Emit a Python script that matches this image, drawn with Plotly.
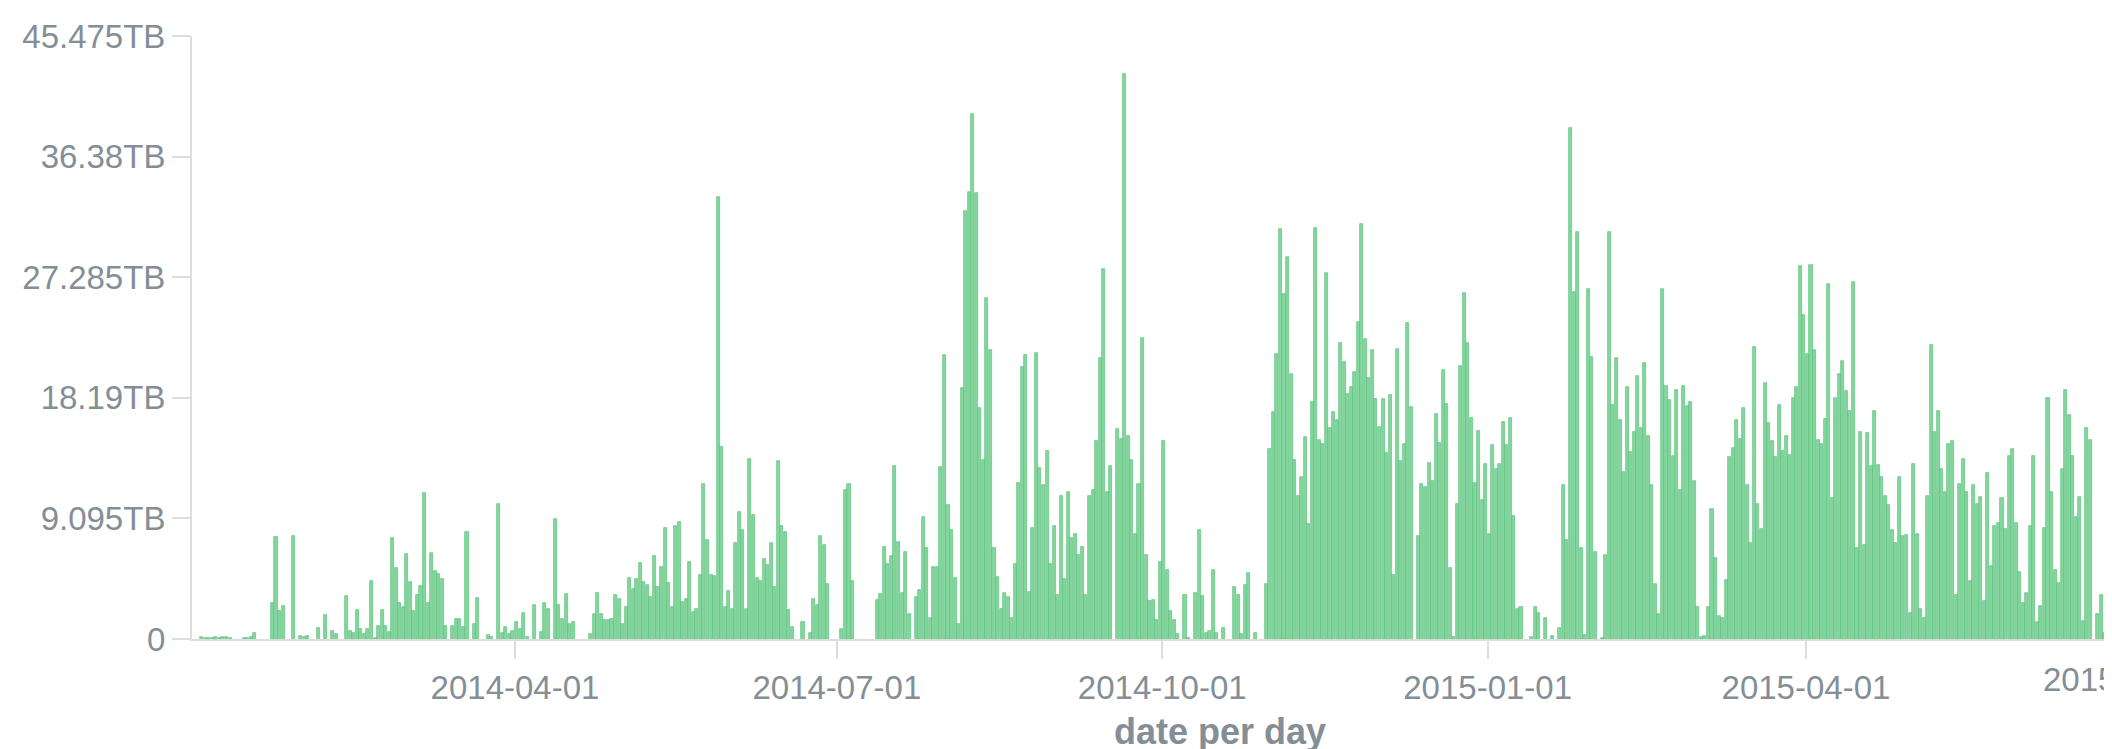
import pandas as pd
import plotly.graph_objects as go

# Daily values in TB, starting 2014-01-02
start_date = "2014-01-02"
values_tb = [
    0.15, 0.1, 0.1, 0.1, 0.12, 0.1, 0.12, 0.15, 0.1, 0,
    0, 0, 0.05, 0.1, 0.15, 0.45, 0, 0, 0, 0,
    2.75, 7.7, 2.1, 2.5, 0, 0, 7.8, 0, 0.2, 0.15,
    0.2, 0, 0, 0.8, 0, 1.8, 0, 0.6, 0.4, 0,
    0, 3.25, 0.6, 0.45, 2.2, 0.72, 0.4, 0.75, 4.35, 0.08,
    1.0, 2.2, 1.0, 0.5, 7.6, 5.36, 2.7, 2.4, 6.4, 4.3,
    2.1, 3.3, 3.97, 11.0, 2.75, 6.5, 5.1, 4.9, 4.5, 1.0,
    0, 1.0, 1.5, 1.5, 0.9, 8.08, 0, 1.1, 3.1, 0,
    0, 0.3, 0.12, 0, 10.2, 0.45, 0.9, 0.4, 0.6, 1.25,
    0.72, 1.95, 0.15, 0, 2.6, 0, 0.55, 2.7, 2.25, 0,
    9.03, 2.6, 1.5, 3.4, 1.1, 1.3, 0, 0, 0, 0,
    0.35, 1.9, 3.5, 1.9, 1.4, 1.4, 1.5, 3.35, 3.0, 1.1,
    2.4, 4.6, 3.8, 4.55, 5.74, 4.3, 4.1, 3.2, 6.25, 3.95,
    5.45, 8.4, 4.25, 2.45, 8.5, 8.86, 2.8, 3.05, 5.8, 2.0,
    2.3, 4.85, 11.67, 7.45, 4.8, 4.75, 33.3, 14.5, 2.4, 3.65,
    2.3, 7.24, 9.57, 8.2, 2.3, 13.6, 9.33, 4.6, 4.4, 6.0,
    5.6, 7.24, 3.95, 13.4, 8.5, 8.05, 2.15, 0.9, 0, 0,
    1.26, 0, 0.45, 3.05, 2.6, 7.78, 7.1, 4.16, 0, 0,
    0, 0.72, 11.2, 11.67, 4.4, 0, 0, 0, 0, 0,
    0, 2.96, 3.4, 6.94, 5.65, 6.25, 13.07, 7.33, 3.5, 6.55,
    1.9, 0, 3.14, 3.7, 9.2, 6.85, 1.56, 5.4, 5.4, 13.0,
    21.4, 10.1, 8.2, 4.6, 1.1, 18.9, 32.3, 33.7, 39.6, 33.6,
    17.4, 13.5, 25.7, 21.8, 6.85, 4.7, 2.3, 3.5, 3.14, 1.56,
    5.65, 11.8, 20.5, 21.4, 3.56, 8.4, 21.6, 12.9, 11.6, 14.2,
    5.65, 8.5, 3.35, 10.8, 4.55, 11.1, 7.6, 7.9, 6.34, 6.94,
    3.3, 10.8, 11.2, 14.9, 21.2, 27.9, 11.1, 13.07, 0, 15.8,
    15.1, 42.6, 15.3, 13.5, 7.9, 11.7, 22.7, 6.34, 2.9, 2.93,
    1.47, 5.83, 14.9, 5.2, 2.1, 1.47, 0.36, 0, 3.35, 0.05,
    0, 3.44, 8.2, 3.26, 0.42, 0.6, 5.2, 0.42, 0, 0.8,
    0, 0, 3.95, 3.35, 0.36, 4.04, 5.0, 0, 0.42, 0,
    0, 4.16, 14.3, 17.1, 21.5, 30.9, 26.0, 28.8, 20.0, 13.5,
    10.8, 12.2, 15.2, 8.65, 17.9, 31.0, 15.0, 14.7, 27.6, 15.9,
    17.1, 16.5, 22.3, 20.9, 18.5, 19.0, 20.1, 23.9, 31.3, 22.6,
    19.7, 21.8, 18.1, 16.0, 18.1, 14.0, 18.4, 4.85, 21.9, 13.4,
    14.7, 23.8, 17.5, 0, 7.75, 11.7, 11.5, 13.3, 11.9, 17.0,
    14.8, 20.3, 17.7, 5.36, 0.15, 10.2, 20.6, 26.1, 22.3, 16.7,
    11.8, 15.7, 10.5, 13.2, 7.9, 14.6, 12.8, 13.2, 16.4, 14.6,
    16.7, 9.3, 2.3, 2.4, 0, 0, 0.15, 2.4, 1.94, 0,
    1.6, 0, 0.2, 0, 0.8, 11.6, 7.45, 38.5, 26.2, 30.7,
    6.88, 0.3, 26.4, 21.3, 6.58, 0, 0.06, 6.34, 30.7, 17.65,
    21.2, 16.5, 12.6, 19.0, 14.1, 15.6, 19.8, 15.9, 20.8, 15.3,
    11.6, 4.16, 1.85, 26.4, 19.1, 18.0, 13.8, 18.8, 11.2, 19.1,
    17.6, 17.9, 11.9, 2.4, 0.15, 0.2, 2.4, 9.84, 6.13, 1.7,
    1.6, 4.46, 13.7, 14.4, 16.5, 15.1, 17.4, 11.6, 7.24, 22.0,
    10.2, 8.3, 19.3, 16.3, 14.9, 13.7, 17.65, 14.2, 15.3, 13.9,
    18.2, 19.0, 28.1, 24.4, 21.5, 28.2, 21.8, 15.0, 14.7, 16.6,
    26.8, 10.6, 18.2, 20.0, 21.0, 18.7, 17.2, 26.9, 6.85, 15.6,
    7.1, 15.5, 13.07, 17.2, 13.1, 12.2, 10.8, 10.1, 8.2, 7.24,
    12.2, 7.78, 7.84, 1.94, 13.2, 7.9, 2.3, 1.56, 10.8, 22.2,
    15.6, 17.2, 12.8, 11.1, 14.7, 14.9, 3.35, 11.7, 13.6, 11.1,
    4.34, 11.6, 10.2, 10.7, 2.84, 12.5, 5.53, 8.5, 8.74, 10.6,
    8.3, 13.8, 14.3, 8.74, 5.06, 2.75, 3.5, 8.5, 13.8, 1.26,
    2.5, 8.4, 18.2, 11.1, 5.2, 4.25, 12.8, 18.8, 16.9, 13.8,
    9.2, 10.7, 1.35, 15.9, 15.0, 0, 1.85, 3.35, 0.45, 2.1,
]

y_tick_vals = [0, 9.095, 18.19, 27.285, 36.38, 45.475]
y_tick_text = ["0", "9.095TB", "18.19TB", "27.285TB", "36.38TB", "45.475TB"]
x_tick_vals = ["2014-04-01", "2014-07-01", "2014-10-01", "2015-01-01", "2015-04-01"]
x_tick_text = ["2014-04-01", "2014-07-01", "2014-10-01", "2015-01-01", "2015-04-01"]
x_extra_tick = "2015-07-01"
x_title = "date per day"

dates = pd.date_range(start_date, periods=len(values_tb), freq="D")
y = [v if v > 0 else None for v in values_tb]

DAY_MS = 86400000
x_range = [pd.Timestamp("2013-12-30 16:20"), pd.Timestamp("2015-06-28 19:00")]

GRAY = "#848e96"
AXIS = "#dddddd"
FONT = "Liberation Sans, Helvetica Neue, Arial, sans-serif"
TICK_SIZE = 33

fig = go.Figure(go.Bar(
    x=dates, y=y,
    width=DAY_MS * 0.86, offset=0,
    marker=dict(color="#84d69f", line=dict(color="#5cc07c", width=0.7)),
    hoverinfo="x+y",
))

fig.update_layout(
    width=2112, height=749,
    margin=dict(l=184, r=0, t=28, b=118),
    paper_bgcolor="white", plot_bgcolor="white",
    showlegend=False,
    font=dict(family=FONT, size=TICK_SIZE, color=GRAY),
    bargap=0,
)
fig.update_yaxes(
    range=[0, 45.475], tickvals=y_tick_vals, ticktext=y_tick_text,
    showgrid=False, zeroline=False,
    showline=True, linecolor=AXIS, linewidth=2,
    ticks="outside", ticklen=18, tickwidth=2, tickcolor=AXIS,
    tickfont=dict(size=TICK_SIZE, color=GRAY, family=FONT),
)
fig.update_xaxes(
    type="date", range=x_range,
    tickvals=x_tick_vals, ticktext=x_tick_text,
    showgrid=False, zeroline=False,
    showline=True, linecolor=AXIS, linewidth=2,
    ticks="outside", ticklen=18, tickwidth=2, tickcolor=AXIS,
    tickfont=dict(size=TICK_SIZE, color=GRAY, family=FONT),
)

t0 = x_range[0].value
t1 = x_range[1].value
xp = (pd.Timestamp(x_extra_tick).value - t0) / (t1 - t0)
fig.add_annotation(x=xp, y=-0.067, xref="paper", yref="paper",
                   text=x_extra_tick, showarrow=False, xanchor="center", yanchor="middle",
                   font=dict(size=TICK_SIZE, color=GRAY, family=FONT))
fig.add_annotation(x=0.533, y=-0.153, xref="paper", yref="paper",
                   text="<b>" + x_title + "</b>", showarrow=False, xanchor="center", yanchor="middle",
                   font=dict(size=36, color=GRAY, family=FONT))

fig.write_html("out.html")
